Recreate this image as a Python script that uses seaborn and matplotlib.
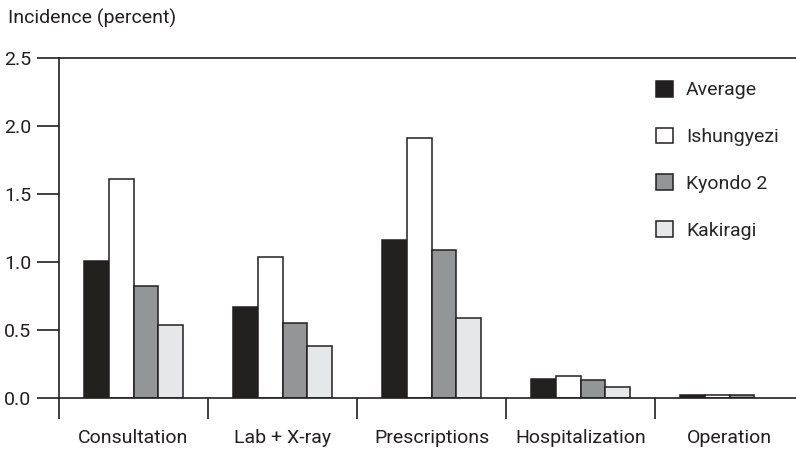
import pandas as pd
import seaborn as sns
import matplotlib.pyplot as plt
from matplotlib.patches import Patch

# values (percent)
services = ['Consultation', 'Lab + X-ray', 'Prescriptions', 'Hospitalization', 'Operation']
groups = ['Average', 'Ishungyezi', 'Kyondo 2', 'Kakiragi']
average = [1.01, 0.67, 1.16, 0.14, 0.02]
ishungyezi = [1.61, 1.04, 1.91, 0.16, 0.02]
kyondo2 = [0.82, 0.55, 1.09, 0.135, 0.02]
kakiragi = [0.54, 0.38, 0.59, 0.08, None]  # no operation bar shown
colors = ['#231f20', '#ffffff', '#939598', '#e6e7e8']

rows = []
for g, vals in zip(groups, [average, ishungyezi, kyondo2, kakiragi]):
    for s, v in zip(services, vals):
        if v is not None:
            rows.append({'service': s, 'group': g, 'value': v})
df = pd.DataFrame(rows)

sns.set_style('white')
plt.rcParams['font.family'] = ['Roboto', 'DejaVu Sans']
plt.rcParams['font.size'] = 14

fig = plt.figure(figsize=(7.96, 4.5), dpi=100)
ax = fig.add_axes([59/796, 52/450, 737/796, 340/450])

sns.barplot(data=df, x='service', y='value', hue='group', order=services,
            hue_order=groups, palette=colors, width=0.67, gap=0,
            edgecolor='#231f20', linewidth=1.1, ax=ax, legend=False)

ax.set_ylim(0, 2.5)
ax.set_xlim(-0.5, -0.5 + 737/149)
ax.set_yticks([0, 0.5, 1.0, 1.5, 2.0, 2.5])
ax.set_yticklabels(['0.0', '0.5', '1.0', '1.5', '2.0', '2.5'], color='#231f20')
ax.set_xticks([-0.5, 0.5, 1.5, 2.5, 3.5])
ax.set_xticklabels([])
ax.set_xticks(range(len(services)), minor=True)
ax.set_xticklabels(services, minor=True, color='#231f20')
ax.tick_params(axis='x', which='major', direction='out', length=15, width=1.2,
               color='#231f20', bottom=True)
ax.tick_params(axis='x', which='minor', length=0, pad=22)
ax.tick_params(axis='y', direction='out', length=16, width=1.2, color='#231f20',
               left=True, pad=4)
ax.set_xlabel('')
ax.set_ylabel('')
for side in ['left', 'bottom', 'top']:
    ax.spines[side].set_color('#231f20')
    ax.spines[side].set_linewidth(1.2)
ax.spines['right'].set_visible(False)

handles = [Patch(facecolor=c, edgecolor='#231f20', linewidth=1.1) for c in colors]
ax.legend(handles, groups, loc='upper left', bbox_to_anchor=(656/796, 1 - 81/450),
          bbox_transform=fig.transFigure, frameon=False, handlelength=0.85,
          handleheight=0.85, handletextpad=0.7, labelspacing=1.45,
          borderpad=0, borderaxespad=0)

fig.text(8/796, 1 - 18/450, 'Incidence (percent)', va='center', ha='left',
         color='#231f20')

fig.savefig('out.png', dpi=100)
